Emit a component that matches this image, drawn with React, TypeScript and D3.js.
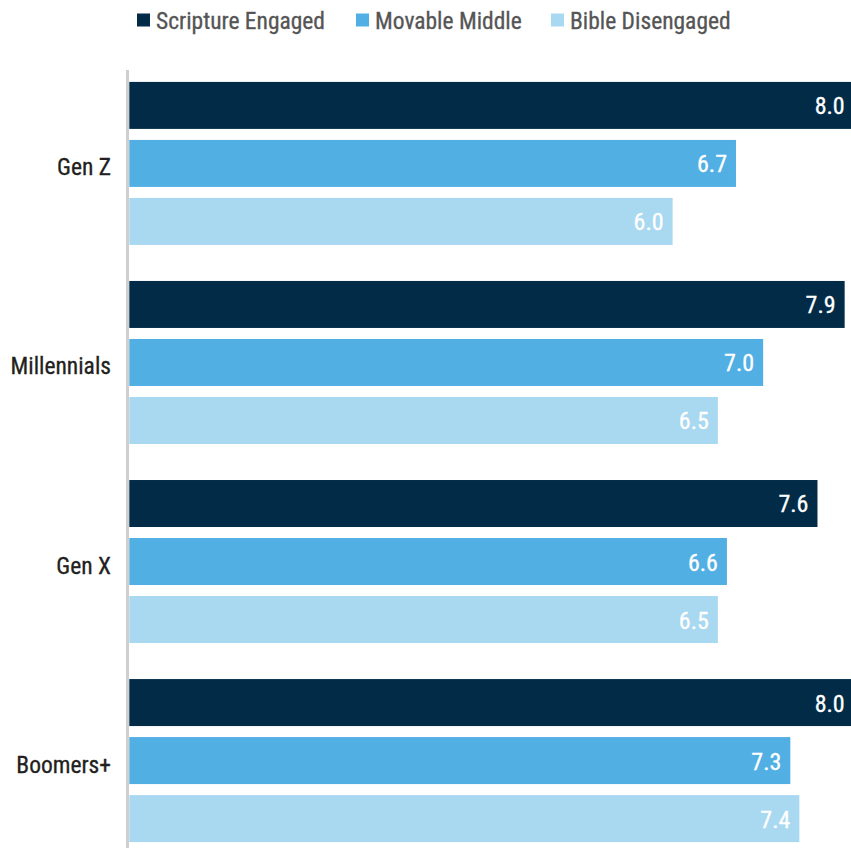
import React from "react";
import * as d3 from "d3";

const categories = ["Gen Z", "Millennials", "Gen X", "Boomers+"];
const seriesNames = ["Scripture Engaged", "Movable Middle", "Bible Disengaged"];
const scriptureEngaged = [8.0, 7.9, 7.6, 8.0];
const movableMiddle = [6.7, 7.0, 6.6, 7.3];
const bibleDisengaged = [6.0, 6.5, 6.5, 7.4];
const seriesColors = ["#012B47", "#52AFE3", "#A9D8F1"];

const W = 851;
const H = 848;
const FONT = "'Liberation Sans Narrow', 'Arial Narrow', 'Roboto Condensed', Roboto, sans-serif";

export default function App() {
  const values = [scriptureEngaged, movableMiddle, bibleDisengaged];
  const x = d3.scaleLinear().domain([0, 8]).range([129.3, 129.3 + 8 * 90.55]);
  const y0 = d3
    .scaleBand<string>()
    .domain(categories)
    .range([64, 860])
    .paddingInner(0.181)
    .paddingOuter(0.09);
  const y1 = d3
    .scaleBand<string>()
    .domain(seriesNames)
    .range([0, y0.bandwidth()])
    .paddingInner(0.19)
    .paddingOuter(0);

  const legendX = [137, 356, 551];

  return (
    <svg
      width={W}
      height={H}
      style={{ position: "absolute", left: 0, top: 0, background: "#fff" }}
      fontFamily={FONT}
    >
      {/* legend */}
      {seriesNames.map((s, i) => (
        <g key={s} transform={`translate(${legendX[i]},0)`}>
          <rect x={0} y={13.5} width={13} height={13} fill={seriesColors[i]} />
          <text
            x={19}
            y={29}
            fontSize={23.5}
            fill="#555555"
            stroke="#555555"
            strokeWidth={0.3}
          >
            {s}
          </text>
        </g>
      ))}

      {/* bars */}
      {categories.map((c, ci) => (
        <g key={c} transform={`translate(0,${y0(c)})`}>
          {seriesNames.map((s, si) => {
            const v = values[si][ci];
            const by = y1(s)!;
            const bh = y1.bandwidth();
            return (
              <g key={s}>
                <rect
                  x={x(0)}
                  y={by}
                  width={x(v) - x(0)}
                  height={bh}
                  fill={seriesColors[si]}
                />
                <text
                  x={x(v) - 9}
                  y={by + bh / 2 + 9}
                  textAnchor="end"
                  fontSize={24}
                  fill="#ffffff"
                  stroke="#ffffff"
                  strokeWidth={0.3}
                >
                  {v.toFixed(1)}
                </text>
              </g>
            );
          })}
          <text
            x={111}
            y={y0.bandwidth() / 2 + 12}
            textAnchor="end"
            fontSize={23.5}
            fill="#231F20"
            stroke="#231F20"
            strokeWidth={0.3}
          >
            {c}
          </text>
        </g>
      ))}

      {/* axis line */}
      <line x1={127.5} x2={127.5} y1={70} y2={H} stroke="#CFCFCF" strokeWidth={3} />
    </svg>
  );
}
